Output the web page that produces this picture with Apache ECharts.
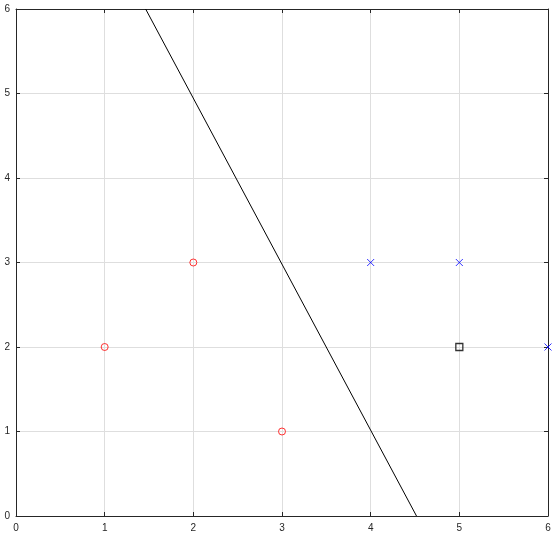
<!DOCTYPE html>
<html><head><meta charset="utf-8">
<script src="https://cdn.jsdelivr.net/npm/echarts@6/dist/echarts.min.js"></script>
<style>html,body{margin:0;padding:0;background:#fff}#c{width:560px;height:538px}</style>
</head><body><div id="c"></div>
<script>
const ticks = [0,1,2,3,4,5,6];
const classA = [[1,2],[2,3],[3,1]];
const classB = [[4,3],[5,3],[6,2]];
const testPoint = [[5,2]];
const boundary = [[1.462,6],[4.517,0]];

const chart = echarts.init(document.getElementById('c'));
const axisBase = {
  type:'value', min:0, max:6, interval:1,
  axisLine:{show:true, onZero:false, lineStyle:{color:'#262626', width:1}},
  axisTick:{show:true, inside:true, length:4, lineStyle:{color:'#262626'}},
};
chart.setOption({
  animation:false,
  grid:{left:16, top:9, right:12, bottom:22, containLabel:false},
  xAxis:[
    Object.assign({}, axisBase, {position:'bottom',
      axisLabel:{color:'#262626', fontSize:10, fontFamily:'Liberation Sans, Arial', margin:7,
        formatter:v=>ticks.includes(v)?String(v):''},
      splitLine:{show:true, lineStyle:{color:'#dedede', width:1}}}),
    Object.assign({}, axisBase, {position:'top', axisLabel:{show:false}, splitLine:{show:false}})
  ],
  yAxis:[
    Object.assign({}, axisBase, {position:'left',
      axisLabel:{color:'#262626', fontSize:10, fontFamily:'Liberation Sans, Arial', margin:6,
        formatter:v=>ticks.includes(v)?String(v):''},
      splitLine:{show:true, lineStyle:{color:'#dedede', width:1}}}),
    Object.assign({}, axisBase, {position:'right', axisLabel:{show:false}, splitLine:{show:false}})
  ],
  series:[
    {type:'line', data:boundary, symbol:'none', lineStyle:{color:'#000', width:1}, z:3},
    {type:'scatter', data:classA, symbol:'circle', symbolSize:7,
      itemStyle:{color:'transparent', borderColor:'#ff0000', borderWidth:1}, z:4},
    {type:'scatter', data:classB, symbol:'path://M0,0L10,10M10,0L0,10', symbolSize:7,
      itemStyle:{color:'none', borderColor:'#0000ff', borderWidth:1}, z:4},
    {type:'scatter', data:testPoint, symbol:'rect', symbolSize:7,
      itemStyle:{color:'transparent', borderColor:'#000', borderWidth:1.3}, z:4}
  ]
});
</script></body></html>
